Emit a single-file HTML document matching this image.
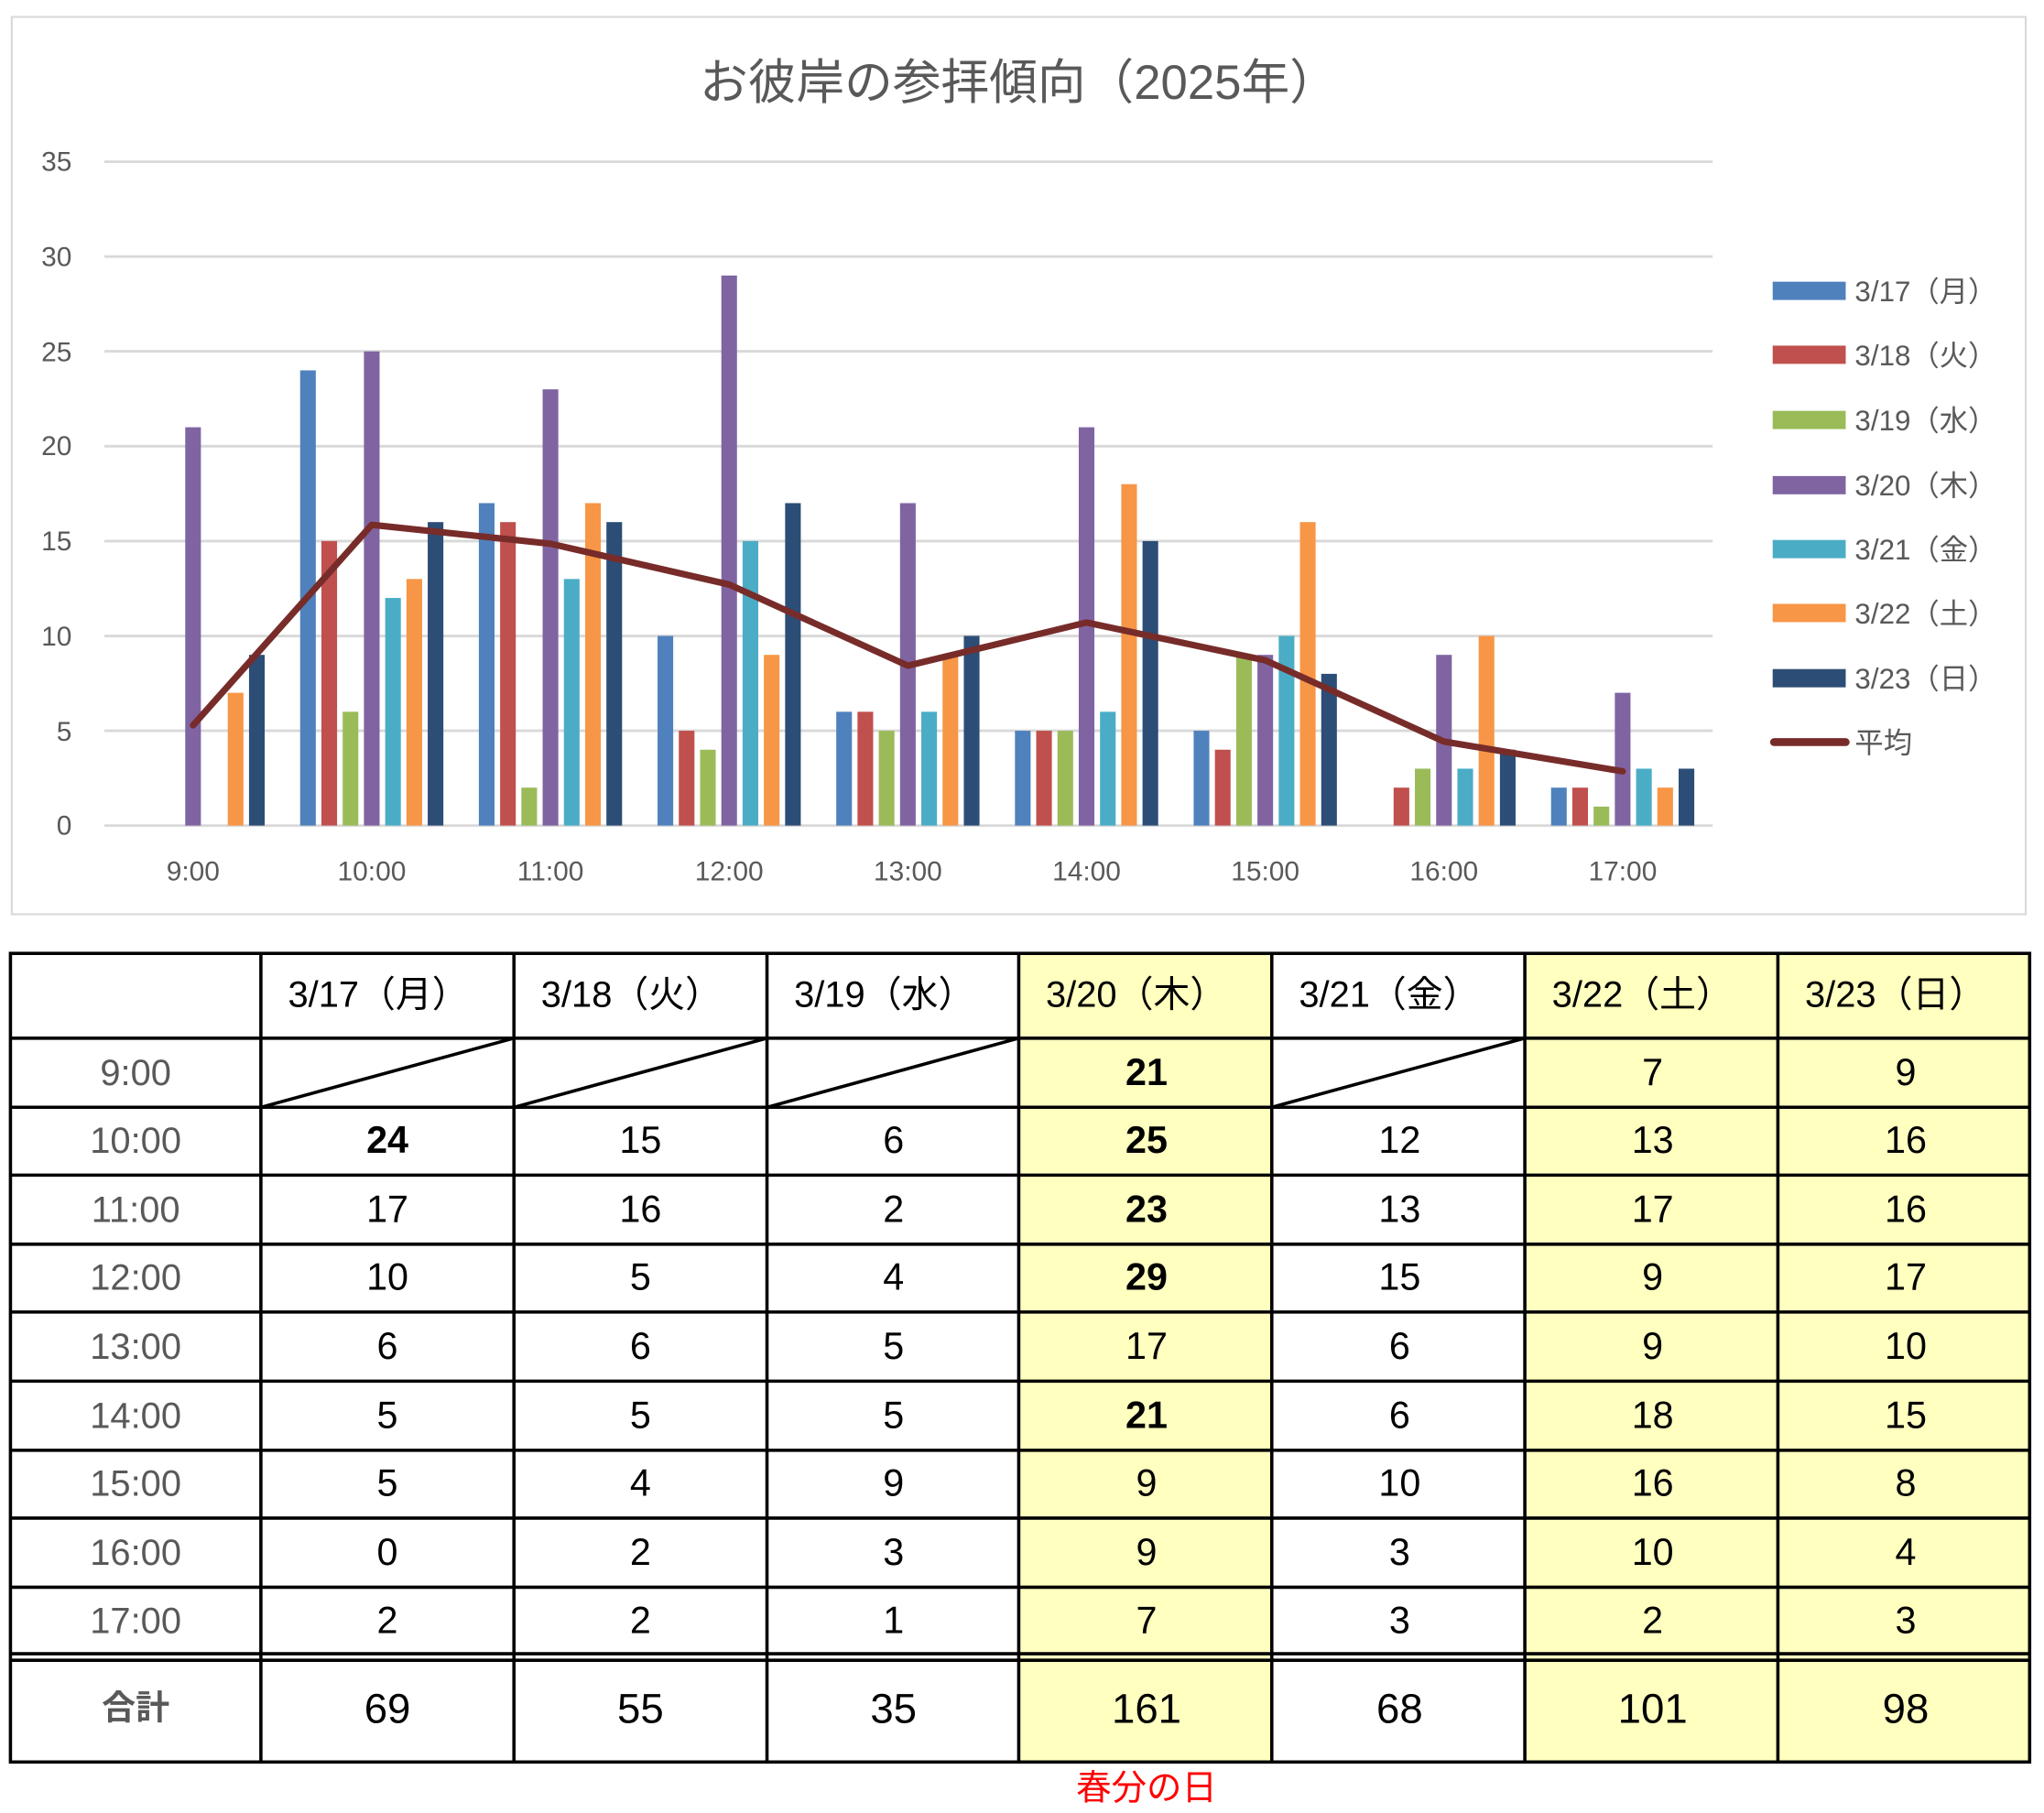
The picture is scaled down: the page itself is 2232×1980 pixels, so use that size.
<!DOCTYPE html>
<html><head><meta charset="utf-8"><style>
html,body{margin:0;padding:0;background:#fff;}
svg{display:block;}
text{font-family:"Liberation Sans","Noto Sans CJK JP",sans-serif;}
</style></head><body>
<svg width="2232" height="1980" viewBox="0 0 1567 1390.1" xmlns="http://www.w3.org/2000/svg">
<rect x="9" y="13" width="1544" height="688" fill="#fff" stroke="#d9d9d9" stroke-width="1.5"/>
<text x="781" y="76" text-anchor="middle" font-size="37" fill="#595959">お彼岸の参拝傾向（2025年）</text>
<g stroke="#d9d9d9" stroke-width="2">
<line x1="80" x2="1313" y1="124" y2="124"/><line x1="80" x2="1313" y1="196.7" y2="196.7"/>
<line x1="80" x2="1313" y1="269.4" y2="269.4"/><line x1="80" x2="1313" y1="342.1" y2="342.1"/>
<line x1="80" x2="1313" y1="414.9" y2="414.9"/><line x1="80" x2="1313" y1="487.6" y2="487.6"/>
<line x1="80" x2="1313" y1="560.3" y2="560.3"/><line x1="80" x2="1313" y1="633" y2="633"/>
</g>
<g font-size="21" fill="#595959" text-anchor="end">
<text x="55" y="131">35</text><text x="55" y="204">30</text><text x="55" y="277">25</text><text x="55" y="349">20</text>
<text x="55" y="422">15</text><text x="55" y="495">10</text><text x="55" y="568">5</text><text x="55" y="640">0</text>
</g>
<g font-size="21" fill="#595959" text-anchor="middle">
<text x="148" y="675">9:00</text><text x="285" y="675">10:00</text><text x="422" y="675">11:00</text><text x="559" y="675">12:00</text>
<text x="696" y="675">13:00</text><text x="833" y="675">14:00</text><text x="970" y="675">15:00</text><text x="1107" y="675">16:00</text><text x="1244" y="675">17:00</text>
</g>
<g transform="translate(148,633) scale(1,-14.543)"><rect x="-6" width="12" height="21" fill="#8064a2"/><rect x="26.6" width="12" height="7" fill="#f79646"/><rect x="42.9" width="12" height="9" fill="#2c4d75"/></g>
<g transform="translate(285,633) scale(1,-14.543)"><rect x="-54.9" width="12" height="24" fill="#4f81bd"/><rect x="-38.6" width="12" height="15" fill="#c0504d"/><rect x="-22.3" width="12" height="6" fill="#9bbb59"/><rect x="-6" width="12" height="25" fill="#8064a2"/><rect x="10.3" width="12" height="12" fill="#4bacc6"/><rect x="26.6" width="12" height="13" fill="#f79646"/><rect x="42.9" width="12" height="16" fill="#2c4d75"/></g>
<g transform="translate(422,633) scale(1,-14.543)"><rect x="-54.9" width="12" height="17" fill="#4f81bd"/><rect x="-38.6" width="12" height="16" fill="#c0504d"/><rect x="-22.3" width="12" height="2" fill="#9bbb59"/><rect x="-6" width="12" height="23" fill="#8064a2"/><rect x="10.3" width="12" height="13" fill="#4bacc6"/><rect x="26.6" width="12" height="17" fill="#f79646"/><rect x="42.9" width="12" height="16" fill="#2c4d75"/></g>
<g transform="translate(559,633) scale(1,-14.543)"><rect x="-54.9" width="12" height="10" fill="#4f81bd"/><rect x="-38.6" width="12" height="5" fill="#c0504d"/><rect x="-22.3" width="12" height="4" fill="#9bbb59"/><rect x="-6" width="12" height="29" fill="#8064a2"/><rect x="10.3" width="12" height="15" fill="#4bacc6"/><rect x="26.6" width="12" height="9" fill="#f79646"/><rect x="42.9" width="12" height="17" fill="#2c4d75"/></g>
<g transform="translate(696,633) scale(1,-14.543)"><rect x="-54.9" width="12" height="6" fill="#4f81bd"/><rect x="-38.6" width="12" height="6" fill="#c0504d"/><rect x="-22.3" width="12" height="5" fill="#9bbb59"/><rect x="-6" width="12" height="17" fill="#8064a2"/><rect x="10.3" width="12" height="6" fill="#4bacc6"/><rect x="26.6" width="12" height="9" fill="#f79646"/><rect x="42.9" width="12" height="10" fill="#2c4d75"/></g>
<g transform="translate(833,633) scale(1,-14.543)"><rect x="-54.9" width="12" height="5" fill="#4f81bd"/><rect x="-38.6" width="12" height="5" fill="#c0504d"/><rect x="-22.3" width="12" height="5" fill="#9bbb59"/><rect x="-6" width="12" height="21" fill="#8064a2"/><rect x="10.3" width="12" height="6" fill="#4bacc6"/><rect x="26.6" width="12" height="18" fill="#f79646"/><rect x="42.9" width="12" height="15" fill="#2c4d75"/></g>
<g transform="translate(970,633) scale(1,-14.543)"><rect x="-54.9" width="12" height="5" fill="#4f81bd"/><rect x="-38.6" width="12" height="4" fill="#c0504d"/><rect x="-22.3" width="12" height="9" fill="#9bbb59"/><rect x="-6" width="12" height="9" fill="#8064a2"/><rect x="10.3" width="12" height="10" fill="#4bacc6"/><rect x="26.6" width="12" height="16" fill="#f79646"/><rect x="42.9" width="12" height="8" fill="#2c4d75"/></g>
<g transform="translate(1107,633) scale(1,-14.543)"><rect x="-38.6" width="12" height="2" fill="#c0504d"/><rect x="-22.3" width="12" height="3" fill="#9bbb59"/><rect x="-6" width="12" height="9" fill="#8064a2"/><rect x="10.3" width="12" height="3" fill="#4bacc6"/><rect x="26.6" width="12" height="10" fill="#f79646"/><rect x="42.9" width="12" height="4" fill="#2c4d75"/></g>
<g transform="translate(1244,633) scale(1,-14.543)"><rect x="-54.9" width="12" height="2" fill="#4f81bd"/><rect x="-38.6" width="12" height="2" fill="#c0504d"/><rect x="-22.3" width="12" height="1" fill="#9bbb59"/><rect x="-6" width="12" height="7" fill="#8064a2"/><rect x="10.3" width="12" height="3" fill="#4bacc6"/><rect x="26.6" width="12" height="2" fill="#f79646"/><rect x="42.9" width="12" height="3" fill="#2c4d75"/></g>
<polyline fill="none" stroke="#772c2a" stroke-width="5" stroke-linejoin="round" stroke-linecap="round"
 points="148,556.1 285,402.4 422,416.9 559,448.2 696,510.4 833,477.3 970,506.3 1107,568.6 1244,591.4"/>
<g font-size="22" fill="#595959">
<rect x="1359" y="216" width="56" height="14" fill="#4f81bd"/><text x="1422" y="231">3/17（月）</text>
<rect x="1359" y="265" width="56" height="14" fill="#c0504d"/><text x="1422" y="280">3/18（火）</text>
<rect x="1359" y="315" width="56" height="14" fill="#9bbb59"/><text x="1422" y="330">3/19（水）</text>
<rect x="1359" y="365" width="56" height="14" fill="#8064a2"/><text x="1422" y="380">3/20（木）</text>
<rect x="1359" y="414" width="56" height="14" fill="#4bacc6"/><text x="1422" y="429">3/21（金）</text>
<rect x="1359" y="463" width="56" height="14" fill="#f79646"/><text x="1422" y="478">3/22（土）</text>
<rect x="1359" y="513" width="56" height="14" fill="#2c4d75"/><text x="1422" y="528">3/23（日）</text>
<line x1="1360" x2="1415" y1="569" y2="569" stroke="#772c2a" stroke-width="6" stroke-linecap="round"/><text x="1422" y="577">平均</text>
</g>
<g fill="#ffffc0">
<rect x="781" y="731" width="194" height="620"/><rect x="1169" y="731" width="387" height="620"/>
</g>
<g stroke="#000" stroke-width="2.5" fill="none">
<rect x="8" y="731" width="1548" height="620"/>
<line x1="200" x2="200" y1="731" y2="1351"/><line x1="394" x2="394" y1="731" y2="1351"/>
<line x1="588" x2="588" y1="731" y2="1351"/><line x1="781" x2="781" y1="731" y2="1351"/>
<line x1="975" x2="975" y1="731" y2="1351"/><line x1="1169" x2="1169" y1="731" y2="1351"/>
<line x1="1363" x2="1363" y1="731" y2="1351"/>
<line x1="8" x2="1556" y1="796" y2="796"/><line x1="8" x2="1556" y1="849" y2="849"/>
<line x1="8" x2="1556" y1="901" y2="901"/><line x1="8" x2="1556" y1="954" y2="954"/>
<line x1="8" x2="1556" y1="1006" y2="1006"/><line x1="8" x2="1556" y1="1059" y2="1059"/>
<line x1="8" x2="1556" y1="1112" y2="1112"/><line x1="8" x2="1556" y1="1164" y2="1164"/>
<line x1="8" x2="1556" y1="1217" y2="1217"/><line x1="8" x2="1556" y1="1268" y2="1268"/>
<line x1="8" x2="1556" y1="1273" y2="1273"/>
<line x1="200" y1="849" x2="394" y2="796"/><line x1="394" y1="849" x2="588" y2="796"/>
<line x1="588" y1="849" x2="781" y2="796"/><line x1="975" y1="849" x2="1169" y2="796"/>
</g>
<g font-size="28" text-anchor="middle" fill="#000">
<text x="290" y="772">3/17（月）</text><text x="484" y="772">3/18（火）</text><text x="678" y="772">3/19（水）</text>
<text x="871" y="772">3/20（木）</text><text x="1065" y="772">3/21（金）</text><text x="1259" y="772">3/22（土）</text><text x="1453" y="772">3/23（日）</text>
</g>
<g font-size="28" text-anchor="middle" fill="#595959">
<text x="104" y="832">9:00</text><text x="104" y="884">10:00</text><text x="104" y="937">11:00</text><text x="104" y="989">12:00</text>
<text x="104" y="1042">13:00</text><text x="104" y="1095">14:00</text><text x="104" y="1147">15:00</text><text x="104" y="1200">16:00</text><text x="104" y="1252">17:00</text>
<text x="104" y="1318" font-weight="bold" font-size="26">合計</text>
</g>
<g font-size="29" text-anchor="middle" fill="#000">
<text x="879" y="832" font-weight="bold">21</text><text x="1267" y="832">7</text><text x="1461" y="832">9</text>
<text x="297" y="884" font-weight="bold">24</text><text x="491" y="884">15</text><text x="685" y="884">6</text><text x="879" y="884" font-weight="bold">25</text><text x="1073" y="884">12</text><text x="1267" y="884">13</text><text x="1461" y="884">16</text>
<text x="297" y="937">17</text><text x="491" y="937">16</text><text x="685" y="937">2</text><text x="879" y="937" font-weight="bold">23</text><text x="1073" y="937">13</text><text x="1267" y="937">17</text><text x="1461" y="937">16</text>
<text x="297" y="989">10</text><text x="491" y="989">5</text><text x="685" y="989">4</text><text x="879" y="989" font-weight="bold">29</text><text x="1073" y="989">15</text><text x="1267" y="989">9</text><text x="1461" y="989">17</text>
<text x="297" y="1042">6</text><text x="491" y="1042">6</text><text x="685" y="1042">5</text><text x="879" y="1042">17</text><text x="1073" y="1042">6</text><text x="1267" y="1042">9</text><text x="1461" y="1042">10</text>
<text x="297" y="1095">5</text><text x="491" y="1095">5</text><text x="685" y="1095">5</text><text x="879" y="1095" font-weight="bold">21</text><text x="1073" y="1095">6</text><text x="1267" y="1095">18</text><text x="1461" y="1095">15</text>
<text x="297" y="1147">5</text><text x="491" y="1147">4</text><text x="685" y="1147">9</text><text x="879" y="1147">9</text><text x="1073" y="1147">10</text><text x="1267" y="1147">16</text><text x="1461" y="1147">8</text>
<text x="297" y="1200">0</text><text x="491" y="1200">2</text><text x="685" y="1200">3</text><text x="879" y="1200">9</text><text x="1073" y="1200">3</text><text x="1267" y="1200">10</text><text x="1461" y="1200">4</text>
<text x="297" y="1252">2</text><text x="491" y="1252">2</text><text x="685" y="1252">1</text><text x="879" y="1252">7</text><text x="1073" y="1252">3</text><text x="1267" y="1252">2</text><text x="1461" y="1252">3</text>
<g font-size="32"><text x="297" y="1321">69</text><text x="491" y="1321">55</text><text x="685" y="1321">35</text><text x="879" y="1321">161</text><text x="1073" y="1321">68</text><text x="1267" y="1321">101</text><text x="1461" y="1321">98</text></g>
</g>
<text x="879" y="1380" font-size="27" text-anchor="middle" fill="#ff0000">春分の日</text>
</svg>
</body></html>
